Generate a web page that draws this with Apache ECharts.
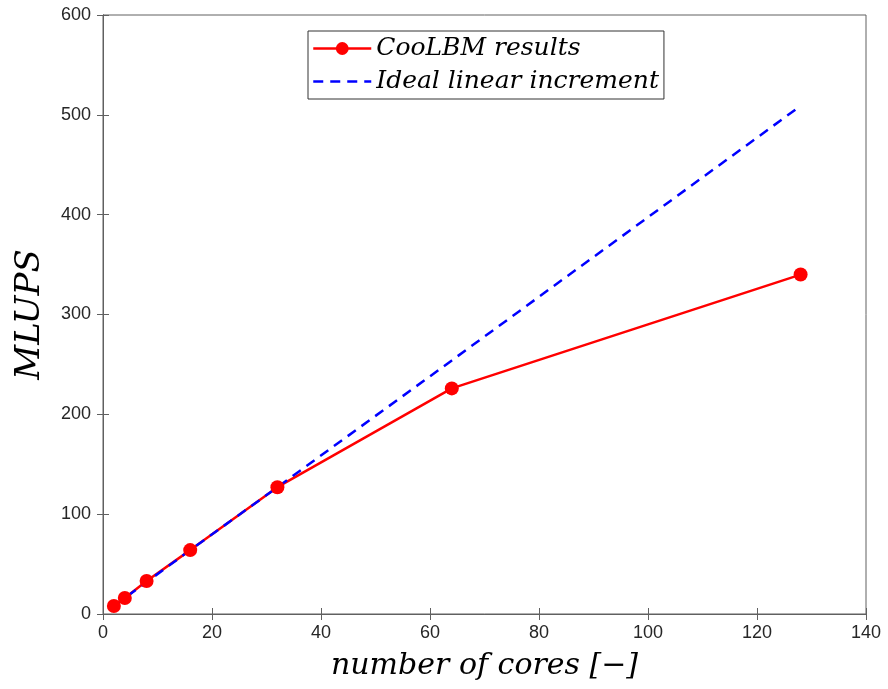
<!DOCTYPE html>
<html>
<head>
<meta charset="utf-8">
<script src="https://cdn.jsdelivr.net/npm/echarts@6/dist/echarts.min.js"></script>
<style>
  html, body { margin: 0; padding: 0; background: #fff; }
  #chart { width: 888px; height: 689px; }
</style>
</head>
<body>
<div id="chart"></div>
<script>
// cores and measured / ideal MLUPS
var cores = [2, 4, 8, 16, 32, 64, 128];
var measured = [8, 16, 33, 64, 127, 226, 340];
var ideal = [8, 16, 32, 64, 127, 254, 509];
var xTicks = [0, 140, 20];
var yTicks = [0, 600, 100];

document.addEventListener("DOMContentLoaded", function () {
    var chartDom = document.getElementById('chart');
    var myChart = echarts.init(chartDom);

    var axisColor = '#606060';
    var labelFont = { color: '#262626', fontSize: 18, fontFamily: 'Liberation Sans' };
    var titleFont = { fontSize: 30, fontStyle: 'italic', fontFamily: 'DejaVu Serif', color: '#000' };

    var option = {
        animation: false,
        grid: {
            left: 103, top: 15, right: 22, bottom: 75,
            outerBoundsMode: 'none',
            containLabel: false,
            show: true, borderColor: axisColor, borderWidth: 1
        },
        legend: {
            left: 308, top: 31,
            orient: 'vertical',
            backgroundColor: '#fff',
            borderColor: '#333',
            borderWidth: 1,
            borderRadius: 0,
            padding: [5, 5, 5, 4],
            itemGap: 8,
            itemWidth: 58,
            itemHeight: 16,
            lineStyle: { width: 2.5 },
            textStyle: { fontSize: 25, fontStyle: 'italic', fontFamily: 'DejaVu Serif', color: '#000' },
            data: [
                { name: 'CooLBM results' },
                { name: 'Ideal linear increment', itemStyle: { opacity: 0 } }
            ]
        },
        xAxis: [{
            type: 'value',
            min: xTicks[0], max: xTicks[1], interval: xTicks[2],
            name: 'number of cores [\u2212]',
            nameLocation: 'middle', nameGap: 37,
            nameTextStyle: titleFont,
            axisLine: { show: true, lineStyle: { color: axisColor } },
            axisTick: { show: true, inside: true, length: 6, lineStyle: { color: axisColor } },
            axisLabel: Object.assign({ margin: 10 }, labelFont),
            splitLine: { show: false }
        }, {
            type: 'value', position: 'top',
            min: xTicks[0], max: xTicks[1], interval: xTicks[2],
            axisLine: { show: true, lineStyle: { color: axisColor } },
            axisTick: { show: true, inside: true, length: 6, lineStyle: { color: axisColor } },
            axisLabel: { show: false },
            splitLine: { show: false }
        }],
        yAxis: [{
            type: 'value',
            min: yTicks[0], max: yTicks[1], interval: yTicks[2],
            name: 'MLUPS',
            nameLocation: 'middle', nameGap: 56,
            nameTextStyle: { fontSize: 34, fontStyle: 'italic', fontFamily: 'DejaVu Serif', color: '#000' },
            axisLine: { show: true, lineStyle: { color: axisColor } },
            axisTick: { show: true, inside: true, length: 6, lineStyle: { color: axisColor } },
            axisLabel: Object.assign({ margin: 12 }, labelFont),
            splitLine: { show: false }
        }, {
            type: 'value', position: 'right',
            min: yTicks[0], max: yTicks[1], interval: yTicks[2],
            axisLine: { show: true, lineStyle: { color: axisColor } },
            axisTick: { show: true, inside: true, length: 6, lineStyle: { color: axisColor } },
            axisLabel: { show: false },
            splitLine: { show: false }
        }],
        series: [
            {
                name: 'CooLBM results',
                type: 'line',
                symbol: 'circle',
                symbolSize: 14,
                itemStyle: { color: '#ff0000' },
                lineStyle: { color: '#ff0000', width: 2.5 },
                data: cores.map(function (c, i) { return [c, measured[i]]; })
            },
            {
                name: 'Ideal linear increment',
                type: 'line',
                symbol: 'none',
                itemStyle: { color: '#0000ff' },
                lineStyle: { color: '#0000ff', width: 2.5, type: [10, 7] },
                data: cores.map(function (c, i) { return [c, ideal[i]]; })
            }
        ]
    };

    myChart.setOption(option);
});
</script>
</body>
</html>
